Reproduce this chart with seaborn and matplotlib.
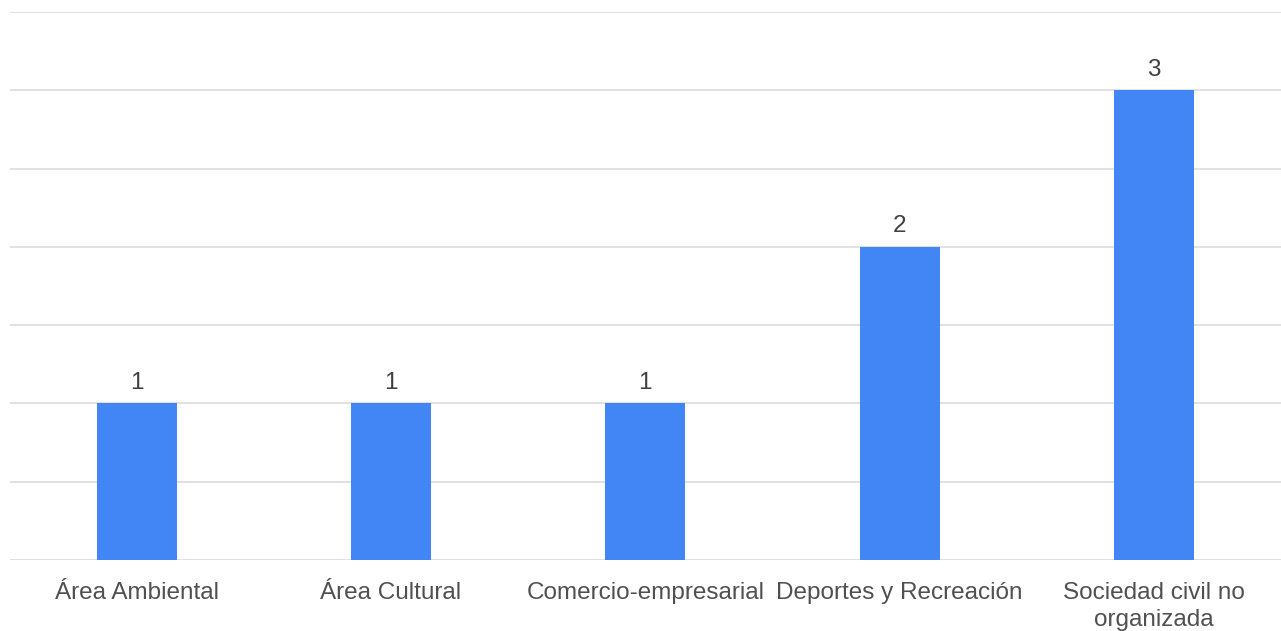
import matplotlib
matplotlib.use("Agg")
import matplotlib.pyplot as plt
import seaborn as sns
import pandas as pd

categories = ["Área Ambiental", "Área Cultural", "Comercio-empresarial",
              "Deportes y Recreación", "Sociedad civil no\norganizada"]
values = [1, 1, 1, 2, 3]

sns.set_theme(style="white")
plt.rcParams['font.family'] = ['Liberation Sans', 'DejaVu Sans']

df = pd.DataFrame({"cat": categories, "val": values})

fig = plt.figure(figsize=(12.81, 6.31), dpi=100)
ax = fig.add_axes([0.0075, 1 - 560/631, 0.9925, (560 - 12)/631])

sns.barplot(data=df, x="cat", y="val", color="#4285F4", width=0.314,
            saturation=1, linewidth=0, ax=ax, zorder=3)

ax.set_ylim(0, 3.5)
ax.set_yticks([0, 0.5, 1, 1.5, 2, 2.5, 3, 3.5])
ax.set_yticklabels([])
ax.tick_params(axis='y', length=0)
ax.yaxis.grid(True, color="#dcdcdc", linewidth=1.2, zorder=0)
ax.set_axisbelow(True)
for s in ax.spines.values():
    s.set_visible(False)
ax.set_xlabel("")
ax.set_ylabel("")
ax.tick_params(axis='x', length=0, pad=15.5, labelsize=17.5, labelcolor="#505050")
for lab in ax.get_xticklabels():
    lab.set_linespacing(1.3)

for container in ax.containers:
    ax.bar_label(container, labels=[str(v) for v in values], padding=7,
                 fontsize=17.5, color="#404040")

fig.savefig("out.png", dpi=100)
